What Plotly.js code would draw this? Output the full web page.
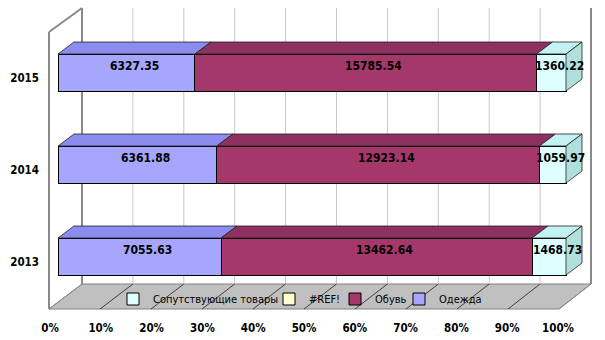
<!DOCTYPE html>
<html>
<head>
<meta charset="utf-8">
<script src="https://cdn.plot.ly/plotly-3.0.1.min.js"></script>
<style>html,body{margin:0;padding:0;background:#fff;}#chart{width:605px;height:340px;}</style>
</head>
<body>
<div id="chart"></div>
<script>
// ---- data ----
var years = ['2013', '2014', '2015'];
var clothes = [7055.63, 6361.88, 6327.35];      // Одежда
var shoes = [13462.64, 12923.14, 15785.54];     // Обувь
var related = [1468.73, 1059.97, 1360.22];      // Сопутствующие товары
var refSeries = [null, null, null];             // #REF!
var tickVals = [0, 10, 20, 30, 40, 50, 60, 70, 80, 90, 100];
var tickText = ['0%', '10%', '20%', '30%', '40%', '50%', '60%', '70%', '80%', '90%', '100%'];

// ---- geometry (pixels) ----
var W = 605, H = 340;
var L = 49, R = 591, T = 8, B = 309;          // plot area
var front0 = 58, front100 = 566;              // bar front plane
var pxPerX = (front100 - front0) / 100;
var yc = [256.5, 164.5, 72.5];
var pxPerY = (yc[0] - yc[2]) / 2;
var xRange = [(L - front0) / pxPerX, (R - front0) / pxPerX];
var yRange = [-(B - yc[0]) / pxPerY, 2 + (yc[2] - T) / pxPerY];
var barW = 37 / pxPerY;
var h = barW / 2;
var depthPx = 16, depthPy = 12;
var dX = depthPx / pxPerX, dY = depthPy / pxPerY;

var yIdx = years.map(function (_, i) { return i; });

var colFront = { clothes: '#A6A6FF', shoes: '#A5386B', related: '#DDFFFF', ref: '#FFFFCC' };
var colTop = { clothes: '#8C8CF0', shoes: '#8E3060', related: '#C2F2F2' };
var colSide = '#B0E0DC';

// percentages
var pct = years.map(function (_, i) {
  var t = clothes[i] + shoes[i] + related[i];
  var a = clothes[i] / t * 100, b = shoes[i] / t * 100;
  return [[0, a], [a, a + b], [a + b, 100]];
});

function barTrace(name, vals, color, xa, lg) {
  return {
    type: 'bar', orientation: 'h', name: name, y: yIdx, x: vals, width: barW,
    xaxis: xa || 'x', legend: lg,
    marker: { color: color, line: { color: '#000', width: 1 } },
    hoverinfo: 'skip'
  };
}

function topFace(seg, color) {
  var xs = [], ys = [];
  years.forEach(function (_, k) {
    var a = pct[k][seg][0], b = pct[k][seg][1];
    xs.push(a, b, b + dX, a + dX, a, null);
    ys.push(k + h, k + h, k + h + dY, k + h + dY, k + h, null);
  });
  return { type: 'scatter', mode: 'lines', x: xs, y: ys, fill: 'toself', fillcolor: color,
    line: { color: '#222', width: 0.8 }, showlegend: false, hoverinfo: 'skip' };
}
function sideFace() {
  var xs = [], ys = [];
  years.forEach(function (_, k) {
    xs.push(100, 100 + dX, 100 + dX, 100, 100, null);
    ys.push(k - h, k - h + dY, k + h + dY, k + h, k - h, null);
  });
  return { type: 'scatter', mode: 'lines', x: xs, y: ys, fill: 'toself', fillcolor: colSide,
    line: { color: '#222', width: 0.8 }, showlegend: false, hoverinfo: 'skip' };
}

var data = [
  barTrace('Одежда', clothes, colFront.clothes, 'x', 'legend4'),
  barTrace('Обувь', shoes, colFront.shoes, 'x', 'legend3'),
  barTrace('#REF!', refSeries, colFront.ref, 'x2', 'legend2'),
  barTrace('Сопутствующие товары', related, colFront.related, 'x', 'legend'),
  topFace(0, colTop.clothes),
  topFace(1, colTop.shoes),
  topFace(2, colTop.related),
  sideFace()
];

// ---- decorations ----
function px(x) { return (x - L) / (R - L); }
function py(y) { return (B - y) / (B - T); }
var shapes = [];
var backTop = 8, backBot = 284, back0 = 82, back100 = 591, floorF0 = 49, floorF100 = 559;
shapes.push({ type: 'path', xref: 'paper', yref: 'paper', layer: 'below',
  path: 'M' + px(back0) + ',' + py(backBot) + ' L' + px(back100) + ',' + py(backBot) +
        ' L' + px(floorF100) + ',' + py(B) + ' L' + px(floorF0) + ',' + py(B) + ' Z',
  fillcolor: '#C0C0C0', line: { color: '#808080', width: 1 } });
for (var i = 0; i <= 10; i++) {
  var bx = back0 + (back100 - back0) * i / 10;
  var fx = floorF0 + (floorF100 - floorF0) * i / 10;
  var edge = (i === 0 || i === 10);
  shapes.push({ type: 'line', xref: 'paper', yref: 'paper', layer: 'below',
    x0: px(bx), x1: px(bx), y0: py(backTop), y1: py(backBot),
    line: { color: edge ? '#8A8A8A' : '#C8C8C8', width: edge ? 2 : 1 } });
  if (i > 0 && i < 10) {
    shapes.push({ type: 'line', xref: 'paper', yref: 'paper', layer: 'below',
      x0: px(bx), x1: px(fx), y0: py(backBot), y1: py(B),
      line: { color: '#404040', width: 1 } });
  }
}
shapes.push({ type: 'line', xref: 'paper', yref: 'paper', layer: 'below',
  x0: px(floorF0), x1: px(floorF0), y0: py(B), y1: py(32), line: { color: '#8A8A8A', width: 2 } });
shapes.push({ type: 'line', xref: 'paper', yref: 'paper', layer: 'below',
  x0: px(floorF0), x1: px(back0), y0: py(32), y1: py(backTop), line: { color: '#8A8A8A', width: 2 } });
shapes.push({ type: 'line', xref: 'paper', yref: 'paper', layer: 'below',
  x0: px(floorF0), x1: px(back0), y0: py(B), y1: py(backBot), line: { color: '#8A8A8A', width: 1 } });
shapes.push({ type: 'line', xref: 'paper', yref: 'paper', layer: 'below',
  x0: px(floorF100), x1: px(back100), y0: py(B), y1: py(backBot), line: { color: '#8A8A8A', width: 1 } });

// ---- value labels (centred on the 3-D box) ----
var FONT = 'DejaVu Sans Condensed';
var labelFont = { family: FONT, size: 12, color: '#000', weight: 'bold' };
var annotations = [];
years.forEach(function (_, k) {
  [clothes, shoes, related].forEach(function (arr, s) {
    annotations.push({ x: (pct[k][s][0] + pct[k][s][1]) / 2, y: k, xref: 'x', yref: 'y',
      text: arr[k].toFixed(2), showarrow: false, yshift: depthPy / 2 + 1, xshift: depthPx / 2,
      font: labelFont });
  });
});

// ---- legends (one per entry, placed on the floor) ----
var legendMid = [142, 298, 364, 428];
function legendAt(i) {
  return { orientation: 'h', x: px(legendMid[i] - 29), xanchor: 'left', y: py(299), yanchor: 'middle',
    bgcolor: 'rgba(0,0,0,0)', borderwidth: 0, font: { family: FONT, size: 11, color: '#000' },
    itemwidth: 30 };
}

var layout = {
  width: W, height: H,
  margin: { l: L, r: W - R, t: T, b: H - B, pad: 0 },
  paper_bgcolor: '#fff', plot_bgcolor: 'rgba(0,0,0,0)',
  barmode: 'stack', barnorm: 'percent',
  font: { family: FONT, size: 11, color: '#000' },
  xaxis: { range: xRange, tickvals: tickVals, ticktext: tickText, showgrid: false, zeroline: false,
    showline: false, ticks: '', ticklabelshift: -8, ticklabelstandoff: 10,
    tickfont: { family: FONT, size: 11.5, color: '#000', weight: 'bold' }, fixedrange: true },
  xaxis2: { range: xRange, overlaying: 'x', visible: false, fixedrange: true },
  yaxis: { range: yRange, tickvals: yIdx, ticktext: years, showgrid: false, zeroline: false,
    showline: false, ticks: '', ticklabelstandoff: 9, ticklabelshift: 5,
    tickfont: { family: FONT, size: 11.5, color: '#000', weight: 'bold' }, fixedrange: true },
  showlegend: true,
  legend: legendAt(0), legend2: legendAt(1), legend3: legendAt(2), legend4: legendAt(3),
  shapes: shapes,
  annotations: annotations
};

Plotly.newPlot('chart', data, layout, { displayModeBar: false, staticPlot: true });
</script>
</body>
</html>
